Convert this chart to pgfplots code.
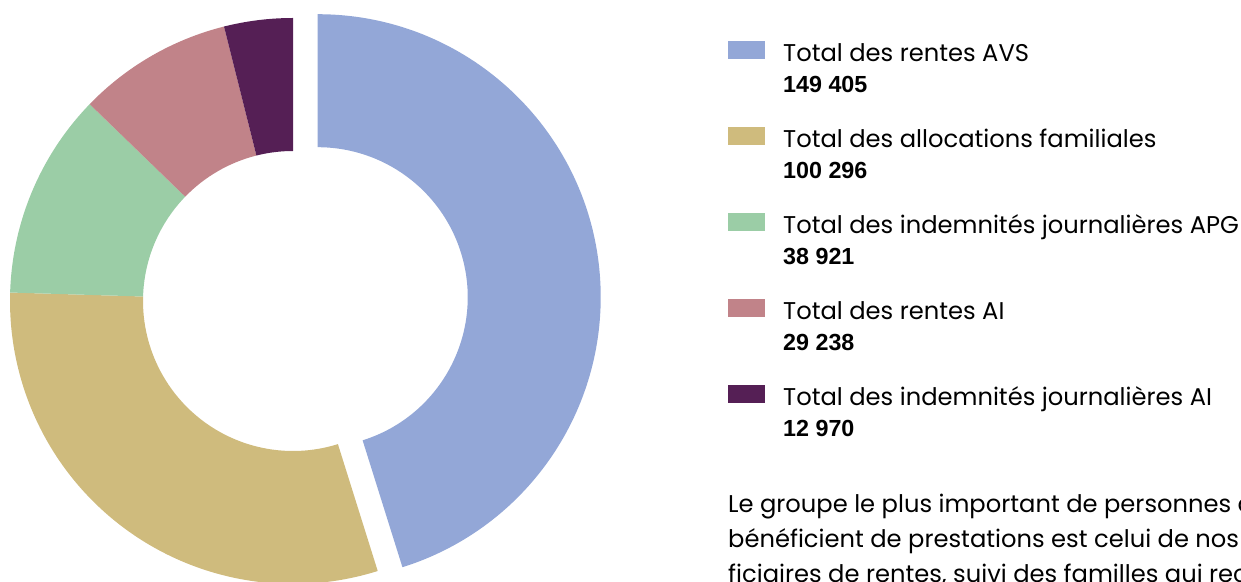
\documentclass[border=0pt]{standalone}
\usepackage{fontspec}
\setmainfont{Poppins}
\newfontfamily\numfont{Liberation Sans}
\usepackage{pgfplots}
\usepackage{pgfplotstable}
\pgfplotsset{compat=1.18}

\definecolor{c0}{HTML}{93A7D7}
\definecolor{c1}{HTML}{CFBB7D}
\definecolor{c2}{HTML}{9BCDA6}
\definecolor{c3}{HTML}{C18389}
\definecolor{c4}{HTML}{551F55}

% beneficiaires par prestation; explode = decalage du secteur (pt)
\pgfplotstableread[col sep=comma]{
label,value,explode
Total des rentes AVS,149405,25
Total des allocations familiales,100296,0
Total des indemnités journalières APG,38921,0
Total des rentes AI,29238,0
Total des indemnités journalières AI,12970,0
}\donnees

% angles cumules (sens horaire depuis le haut)
\def\total{0}
\pgfplotstableforeachcolumnelement{value}\of\donnees\as\val{%
  \xdef\total{\fpeval{\total+\val}}}
\gdef\cumul{90}
\pgfplotstableforeachcolumnelement{value}\of\donnees\as\val{%
  \expandafter\xdef\csname sa\pgfplotstablerow\endcsname{\cumul}%
  \xdef\cumul{\fpeval{\cumul-360*\val/\total}}%
  \expandafter\xdef\csname ea\pgfplotstablerow\endcsname{\cumul}%
  \pgfplotstablegetelem{\pgfplotstablerow}{explode}\of\donnees
  \expandafter\xdef\csname ox\pgfplotstablerow\endcsname{\fpeval{\pgfplotsretval*cosd((\csname sa\pgfplotstablerow\endcsname+\cumul)/2)}}%
  \expandafter\xdef\csname oy\pgfplotstablerow\endcsname{\fpeval{\pgfplotsretval*sind((\csname sa\pgfplotstablerow\endcsname+\cumul)/2)}}%
  \expandafter\xdef\csname nb\pgfplotstablerow\endcsname{\val}%
  \pgfplotstablegetelem{\pgfplotstablerow}{label}\of\donnees
  \global\expandafter\let\csname lab\pgfplotstablerow\endcsname\pgfplotsretval
}

\def\cx{293}\def\cy{280}\def\R{283}\def\r{150}

\begin{document}
\begin{tikzpicture}
\useasboundingbox (0,0) rectangle (1241pt,581pt);
\clip (0,0) rectangle (1241pt,581pt);
\begin{axis}[
  hide axis, x=1pt, y=1pt,
  xmin=0, xmax=1241, ymin=0, ymax=581,
  scale only axis, at={(0,0)}, anchor=south west,
  clip=false, disabledatascaling,
]
\pgfplotsinvokeforeach{0,...,4}{
  \fill[c#1] (axis cs:{\cx+\csname ox#1\endcsname+\R*cos(\csname sa#1\endcsname)},{\cy+\csname oy#1\endcsname+\R*sin(\csname sa#1\endcsname)})
    arc[start angle=\csname sa#1\endcsname, end angle=\csname ea#1\endcsname, radius=\R pt]
    -- (axis cs:{\cx+\csname ox#1\endcsname+\r*cos(\csname ea#1\endcsname)},{\cy+\csname oy#1\endcsname+\r*sin(\csname ea#1\endcsname)})
    arc[start angle=\csname ea#1\endcsname, end angle=\csname sa#1\endcsname, radius=\r pt]
    -- cycle;
  \fill[c#1] (axis cs:728,{540-86*#1}) rectangle (axis cs:765,{522-86*#1});
  \node[anchor=base west, inner sep=0pt] at (axis cs:783,{519.3-86*#1})
    {\fontsize{24.2}{28}\selectfont\csname lab#1\endcsname};
  \node[anchor=base west, inner sep=0pt] at (axis cs:783,{488.3-86*#1})
    {\fontsize{23.3}{28}\selectfont\numfont\bfseries
     \pgfmathprintnumber[assume math mode=true, fixed, precision=0, 1000 sep={\ }]{\csname nb#1\endcsname}};
}
\node[anchor=base west, inner sep=0pt] at (axis cs:728,69)
  {\fontsize{24.2}{28}\selectfont Le groupe le plus important de personnes qui};
\node[anchor=base west, inner sep=0pt] at (axis cs:728,34)
  {\fontsize{24.2}{28}\selectfont bénéficient de prestations est celui de nos béné-};
\node[anchor=base west, inner sep=0pt] at (axis cs:728,-1)
  {\fontsize{24.2}{28}\selectfont ficiaires de rentes, suivi des familles qui reçoivent};
\end{axis}
\end{tikzpicture}
\end{document}
